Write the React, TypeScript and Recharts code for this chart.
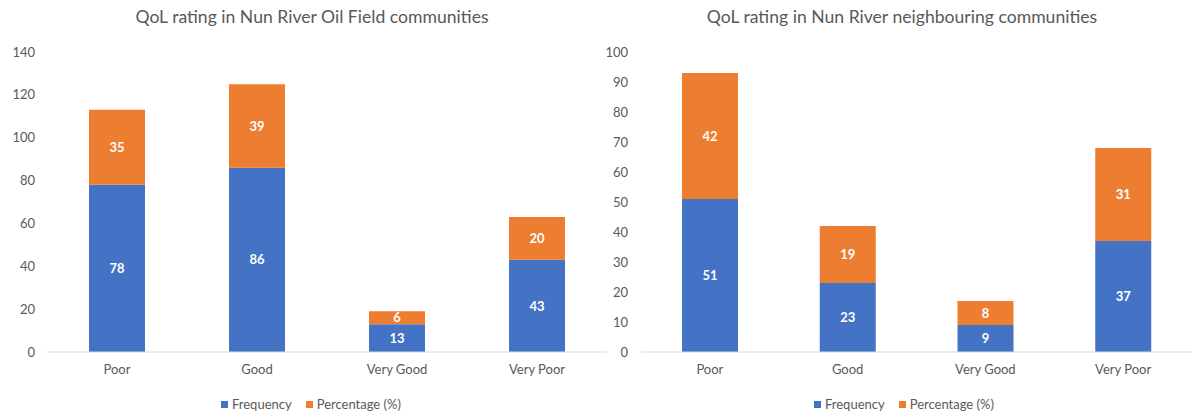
import React from 'react'
import { BarChart, Bar, XAxis, YAxis, LabelList } from 'recharts'

const categories = ['Poor', 'Good', 'Very Good', 'Very Poor']

// Nun River Oil Field communities
const oilFreq = [78, 86, 13, 43]
const oilPct = [35, 39, 6, 20]
const oilTicks = [0, 20, 40, 60, 80, 100, 120, 140]

// Nun River neighbouring communities
const nbFreq = [51, 23, 9, 37]
const nbPct = [42, 19, 8, 31]
const nbTicks = [0, 10, 20, 30, 40, 50, 60, 70, 80, 90, 100]

const BLUE = '#4472C4'
const ORANGE = '#ED7D31'
const TEXT = '#595959'
const FONT = 'Lato, "Open Sans", sans-serif'

function build(freq: number[], pct: number[]) {
  return categories.map((name, i) => ({ name, freq: freq[i], pct: pct[i] }))
}

function Legend({ left }: { left: number }) {
  const sq = (c: string) => (
    <span style={{ display: 'inline-block', width: 7, height: 7, background: c, marginRight: 4 }} />
  )
  return (
    <div style={{ position: 'absolute', left, top: 396, fontFamily: FONT, fontSize: 13, color: TEXT, whiteSpace: 'nowrap', display: 'flex', alignItems: 'center' }}>
      {sq(BLUE)}<span>Frequency</span>
      <span style={{ width: 14 }} />
      {sq(ORANGE)}<span>Percentage (%)</span>
    </div>
  )
}

function Panel({ data, ticks, max, width, yWidth, tickMargin }: { data: any[]; ticks: number[]; max: number; width: number; yWidth: number; tickMargin: number }) {
  const labelStyle = { fill: '#ffffff', fontSize: 13, fontWeight: 700, fontFamily: FONT }
  return (
    <BarChart width={width} height={413} data={data} margin={{ top: 52, right: 0, left: 0, bottom: 41 }}>
      <XAxis dataKey="name" height={20} tick={{ fill: TEXT, fontSize: 13, fontFamily: FONT }} tickLine={false} axisLine={{ stroke: '#d9d9d9' }} tickMargin={7} />
      <YAxis width={yWidth} domain={[0, max]} ticks={ticks} tick={{ fill: TEXT, fontSize: 13, fontFamily: FONT }} tickLine={false} axisLine={false} tickMargin={tickMargin} />
      <Bar dataKey="freq" stackId="a" fill={BLUE} barSize={56} isAnimationActive={false}>
        <LabelList dataKey="freq" position="center" style={labelStyle} />
      </Bar>
      <Bar dataKey="pct" stackId="a" fill={ORANGE} barSize={56} isAnimationActive={false}>
        <LabelList dataKey="pct" position="center" style={labelStyle} />
      </Bar>
    </BarChart>
  )
}

export default function App() {
  const titleStyle: React.CSSProperties = { position: 'absolute', top: 6, fontFamily: FONT, fontSize: 17.6, color: TEXT, whiteSpace: 'nowrap', transform: 'translateX(-50%)' }
  return (
    <div style={{ position: 'absolute', left: 0, top: 0, width: 1192, height: 413, background: '#fff', overflow: 'hidden' }}>
      <div style={{ ...titleStyle, left: 312 }}>QoL rating in Nun River Oil Field communities</div>
      <div style={{ ...titleStyle, left: 902 }}>QoL rating in Nun River neighbouring communities</div>
      <div style={{ position: 'absolute', left: 0, top: 0 }}>
        <Panel data={build(oilFreq, oilPct)} ticks={oilTicks} max={140} width={607} yWidth={47} tickMargin={6} />
      </div>
      <div style={{ position: 'absolute', left: 600, top: 0 }}>
        <Panel data={build(nbFreq, nbPct)} ticks={nbTicks} max={100} width={592} yWidth={41} tickMargin={7} />
      </div>
      <Legend left={221} />
      <Legend left={814} />
    </div>
  )
}
